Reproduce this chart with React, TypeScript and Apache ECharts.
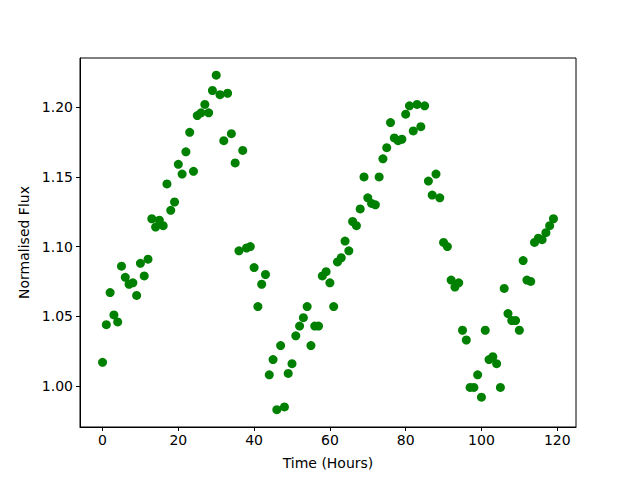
import React, { useEffect, useRef } from "react";
import * as echarts from "echarts";

const hours: number[] = Array.from({ length: 120 }, (_, i) => i);
const flux: number[] = [
  1.017, 1.044, 1.067, 1.051, 1.046, 1.086, 1.078, 1.073, 1.074, 1.065,
  1.088, 1.079, 1.091, 1.120, 1.114, 1.119, 1.115, 1.145, 1.126, 1.132,
  1.159, 1.152, 1.168, 1.182, 1.154, 1.194, 1.196, 1.202, 1.196, 1.212,
  1.223, 1.209, 1.176, 1.210, 1.181, 1.160, 1.097, 1.169, 1.099, 1.100,
  1.085, 1.057, 1.073, 1.080, 1.008, 1.019, 0.983, 1.029, 0.985, 1.009,
  1.016, 1.036, 1.043, 1.049, 1.057, 1.029, 1.043, 1.043, 1.079, 1.082,
  1.074, 1.057, 1.089, 1.092, 1.104, 1.097, 1.118, 1.115, 1.127, 1.150,
  1.135, 1.131, 1.130, 1.150, 1.163, 1.171, 1.189, 1.178, 1.176, 1.177,
  1.195, 1.201, 1.183, 1.202, 1.186, 1.201, 1.147, 1.137, 1.152, 1.135,
  1.103, 1.100, 1.076, 1.071, 1.074, 1.040, 1.033, 0.999, 0.999, 1.008,
  0.992, 1.040, 1.019, 1.021, 1.016, 0.999, 1.070, 1.052, 1.047, 1.047,
  1.040, 1.090, 1.076, 1.075, 1.103, 1.106, 1.105, 1.110, 1.115, 1.120,
];
const xTicks: number[] = [0, 20, 40, 60, 80, 100, 120];
const yTicks: number[] = [1.0, 1.05, 1.1, 1.15, 1.2];

export default function App() {
  const ref = useRef<HTMLDivElement>(null);
  useEffect(() => {
    if (!ref.current) return;
    const chart = echarts.init(ref.current, null, { renderer: "svg" });
    const font = "DejaVu Sans";
    chart.setOption({
      animation: false,
      backgroundColor: "#ffffff",
      textStyle: { fontFamily: font },
      grid: {
        left: 80,
        right: 64,
        top: 58,
        bottom: 53,
        show: true,
        borderColor: "#000",
        borderWidth: 1,
        backgroundColor: "transparent",
      },
      xAxis: {
        type: "value",
        min: -5.95,
        max: 124.95,
        name: "Time (Hours)",
        nameLocation: "middle",
        nameGap: 29,
        nameTextStyle: { color: "#000", fontSize: 14, fontFamily: font },
        axisLine: { show: true, onZero: false, lineStyle: { color: "#000", width: 1 } },
        axisTick: { show: true, length: 4, lineStyle: { color: "#000" }, customValues: xTicks },
        axisLabel: {
          color: "#000",
          fontSize: 14,
          fontFamily: font,
          margin: 6,
          customValues: xTicks,
          formatter: (v: number) => String(v),
        },
        splitLine: { show: false },
      },
      yAxis: {
        type: "value",
        min: 0.9706,
        max: 1.2353,
        name: "Normalised Flux",
        nameLocation: "middle",
        nameGap: 48,
        nameTextStyle: { color: "#000", fontSize: 14, fontFamily: font },
        axisLine: { show: true, onZero: false, lineStyle: { color: "#000", width: 1 } },
        axisTick: { show: true, length: 4, lineStyle: { color: "#000" }, customValues: yTicks },
        axisLabel: {
          color: "#000",
          fontSize: 14,
          fontFamily: font,
          margin: 7,
          customValues: yTicks,
          formatter: (v: number) => v.toFixed(2),
        },
        splitLine: { show: false },
      },
      series: [
        {
          type: "scatter",
          data: hours.map((h, i) => [h, flux[i]]),
          symbol: "circle",
          symbolSize: 9,
          itemStyle: { color: "#008000", opacity: 1 },
        },
      ],
    });
    return () => chart.dispose();
  }, []);
  return <div ref={ref} style={{ width: 640, height: 480, position: "absolute", left: 0, top: 0 }} />;
}
